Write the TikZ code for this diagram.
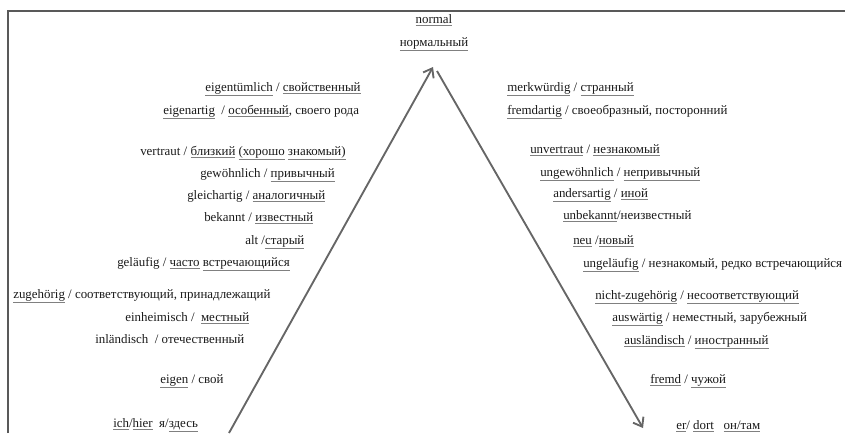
\documentclass[tikz,border=0pt]{standalone}
\usepackage{fontspec}
\setmainfont{Liberation Serif}
\usetikzlibrary{arrows.meta}

\newcommand{\unt}[1]{\textcolor{gray}{\underline{\textcolor{black!90}{#1}}}}

\begin{document}
\begin{tikzpicture}[
    x=0.75pt, y=-0.75pt,
    font=\fontsize{9.7pt}{12pt}\selectfont,
    wort/.style={anchor=base west, inner sep=0pt, text=black!90},
    mitte/.style={anchor=base, inner sep=0pt, text=black!90},
    pfeil/.style={draw=gray!80!black, line width=1.4pt, -{Straight Barb[length=6pt, width=9pt]}},
    rahmen/.style={draw=gray!70!black, line width=0.8pt}
]
    \useasboundingbox (0,0) rectangle (845,433);
    \draw[rahmen] (8,433) |- (845,11);

    \node[mitte] (normal) at (434,23) {\unt{normal}};
    \node[mitte] (normalru) at (434,46) {\unt{нормальный}};

    \node[wort] (eigentuemlich) at (205,91) {\unt{eigentümlich} / \unt{свойственный}};
    \node[wort] (eigenartig) at (163,114) {\unt{eigenartig}\ \ / \unt{особенный}, своего рода};
    \node[wort] (vertraut) at (140,155) {vertraut / \unt{близкий} \unt{(хорошо} \unt{знакомый)}};
    \node[wort] (gewoehnlich) at (200,177) {gewöhnlich / \unt{привычный}};
    \node[wort] (gleichartig) at (187,199) {gleichartig / \unt{аналогичный}};
    \node[wort] (bekannt) at (204,221) {bekannt / \unt{известный}};
    \node[wort] (alt) at (245,244) {alt /\unt{старый}};
    \node[wort] (gelaeufig) at (117,266) {geläufig / \unt{часто} \unt{встречающийся}};
    \node[wort] (zugehoerig) at (13,298) {\unt{zugehörig} / соответствующий, принадлежащий};
    \node[wort] (einheimisch) at (125,321) {einheimisch /\ \ \unt{местный}};
    \node[wort] (inlaendisch) at (95,343) {inländisch\ \ / отечественный};
    \node[wort] (eigen) at (160,383) {\unt{eigen} / свой};
    \node[wort] (ich) at (113,427) {\unt{ich}/\unt{hier}\ \ я/\unt{здесь}};

    \node[wort] (merkwuerdig) at (507,91) {\unt{merkwürdig} / \unt{странный}};
    \node[wort] (fremdartig) at (507,114) {\unt{fremdartig} / своеобразный, посторонний};
    \node[wort] (unvertraut) at (530,153) {\unt{unvertraut} / \unt{незнакомый}};
    \node[wort] (ungewoehnlich) at (540,176) {\unt{ungewöhnlich} / \unt{непривычный}};
    \node[wort] (andersartig) at (553,197) {\unt{andersartig} / \unt{иной}};
    \node[wort] (unbekannt) at (563,219) {\unt{unbekannt}/неизвестный};
    \node[wort] (neu) at (573,244) {\unt{neu} /\unt{новый}};
    \node[wort] (ungelaeufig) at (583,267) {\unt{ungeläufig} / незнакомый, редко встречающийся};
    \node[wort] (nichtzugehoerig) at (595,299) {\unt{nicht-zugehörig} / \unt{несоответствующий}};
    \node[wort] (auswaertig) at (612,321) {\unt{auswärtig} / неместный, зарубежный};
    \node[wort] (auslaendisch) at (624,344) {\unt{ausländisch} / \unt{иностранный}};
    \node[wort] (fremd) at (650,383) {\unt{fremd} / \unt{чужой}};
    \node[wort] (er) at (676,429) {\unt{er}/ \unt{dort}\ \ \ \unt{он/там}};

    \coordinate (fuss) at (229,433);
    \coordinate (spitze) at (433,67);
    \coordinate (start) at (437,71);
    \coordinate (ende) at (643,428);

    \draw[pfeil] (fuss) -- (spitze);
    \draw[pfeil] (start) -- (ende);
\end{tikzpicture}
\end{document}
